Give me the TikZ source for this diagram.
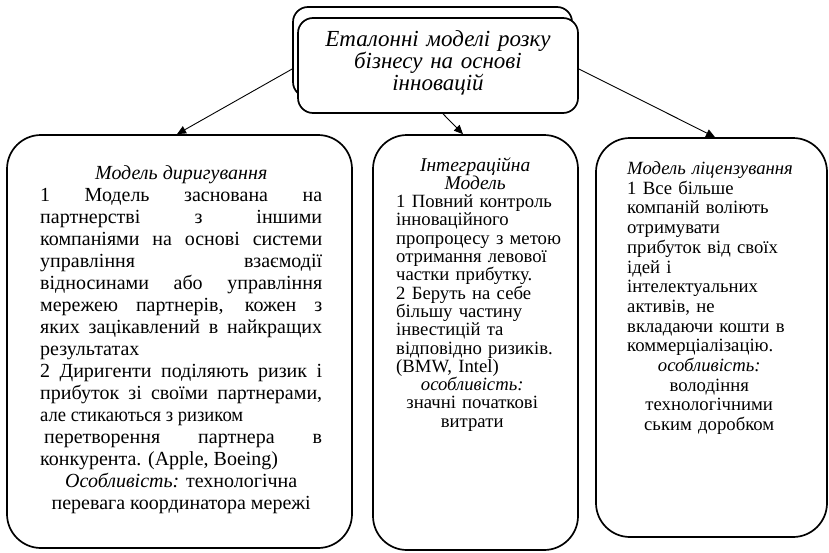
\documentclass[tikz,border=0pt]{standalone}
\usepackage{fontspec}
\setmainfont{Liberation Serif}
\usetikzlibrary{arrows.meta}
\begin{document}
\begin{tikzpicture}[x=1pt,y=-1pt,
  box/.style={draw, line width=1.7pt, rounded corners=#1, fill=white, inner sep=0pt, rectangle},
  txt/.style={inner sep=0pt, text width=#1, anchor=base west},
  arr/.style={line width=0.9pt, -{Triangle[length=9pt,width=8pt]}}]
\useasboundingbox (0,0) rectangle (829,552);
% top boxes
\node[box=15pt, minimum width=279pt, minimum height=90pt] (topback) at (432.5,52) {};
\node[box=15pt, minimum width=280pt, minimum height=95pt] (topfront) at (438,65.5) {};
\node[txt=270pt, align=center, anchor=base, font=\fontsize{23pt}{18.5pt}\selectfont\itshape] (title) at (438,46)
  {Еталонні моделі розку\\ бізнесу на основі\\ інновацій};
% bottom boxes
\node[box=34pt, minimum width=345pt, minimum height=413pt] (leftbox) at (179.5,341.5) {};
\node[box=34pt, minimum width=205pt, minimum height=415pt] (midbox) at (475.5,342.5) {};
\node[box=34pt, minimum width=231pt, minimum height=399pt] (rightbox) at (711.5,337.5) {};
% left text
\node[txt=282pt, align=justify, font=\fontsize{20pt}{22pt}\selectfont] (lefttext) at (40,179)
  {\parindent=0pt
  {\centering\itshape Модель диригування\par}
  1 Модель заснована на\linebreak
  партнерстві з іншими\linebreak
  компаніями на основі системи\linebreak
  управління взаємодії\linebreak
  відносинами або управління\linebreak
  мережею партнерів, кожен з\linebreak
  яких зацікавлений в найкращих\linebreak
  результатах\par
  2 Диригенти поділяють ризик і\linebreak
  прибуток зі своїми партнерами,\linebreak
  \scalebox{0.93}[1]{але стикаються з ризиком}\par
  \hspace*{4pt}перетворення партнера в\linebreak
  конкурента. (Apple, Boeing)\par
  {\centering \textit{Особливість:} технологічна\\ перевага координатора мережі\par}};
% middle text
\node[txt=170pt, align=left, font=\fontsize{18.7pt}{18.3pt}\selectfont] (midtext) at (396,171)
  {\makebox[158pt]{\fontsize{19.5pt}{18.3pt}\selectfont\itshape Інтеграційна}\\
   \makebox[158pt]{\fontsize{19.5pt}{18.3pt}\selectfont\itshape Модель}\\
   1 Повний контроль\\
   інноваційного\\
   пропроцесу з метою\\
   отримання левової\\
   частки прибутку.\\
   2 Беруть на себе\\
   більшу частину\\
   інвестицій та\\
   відповідно ризиків.\\
   (BMW, Intel)\\
   \makebox[152pt]{\itshape особливість:}\\
   \makebox[152pt]{значні початкові}\\
   \makebox[152pt]{витрати}};
% right text
\node[txt=180pt, align=left, font=\fontsize{18.7pt}{19.7pt}\selectfont] (righttext) at (627,174.5)
  {{\itshape Модель ліцензування}\\
   1 Все більше\\
   компаній воліють\\
   отримувати\\
   прибуток від своїх\\
   ідей і\\
   інтелектуальних\\
   активів, не\\
   вкладаючи кошти в\\
   коммерціалізацію.\\
   \makebox[164pt]{\itshape особливість:}\\
   \makebox[164pt]{володіння}\\
   \makebox[164pt]{технологічними}\\
   \makebox[164pt]{ським доробком}};
% connectors
\draw[arr] ([yshift=-17pt]topback.west) -- ([xshift=-2.5pt]leftbox.north);
\draw[arr] ([xshift=5pt]topfront.south) -- ([xshift=-12.5pt]midbox.north);
\draw[arr] ([yshift=-3.5pt]topfront.east) -- ([xshift=3.5pt]rightbox.north);
\end{tikzpicture}
\end{document}
